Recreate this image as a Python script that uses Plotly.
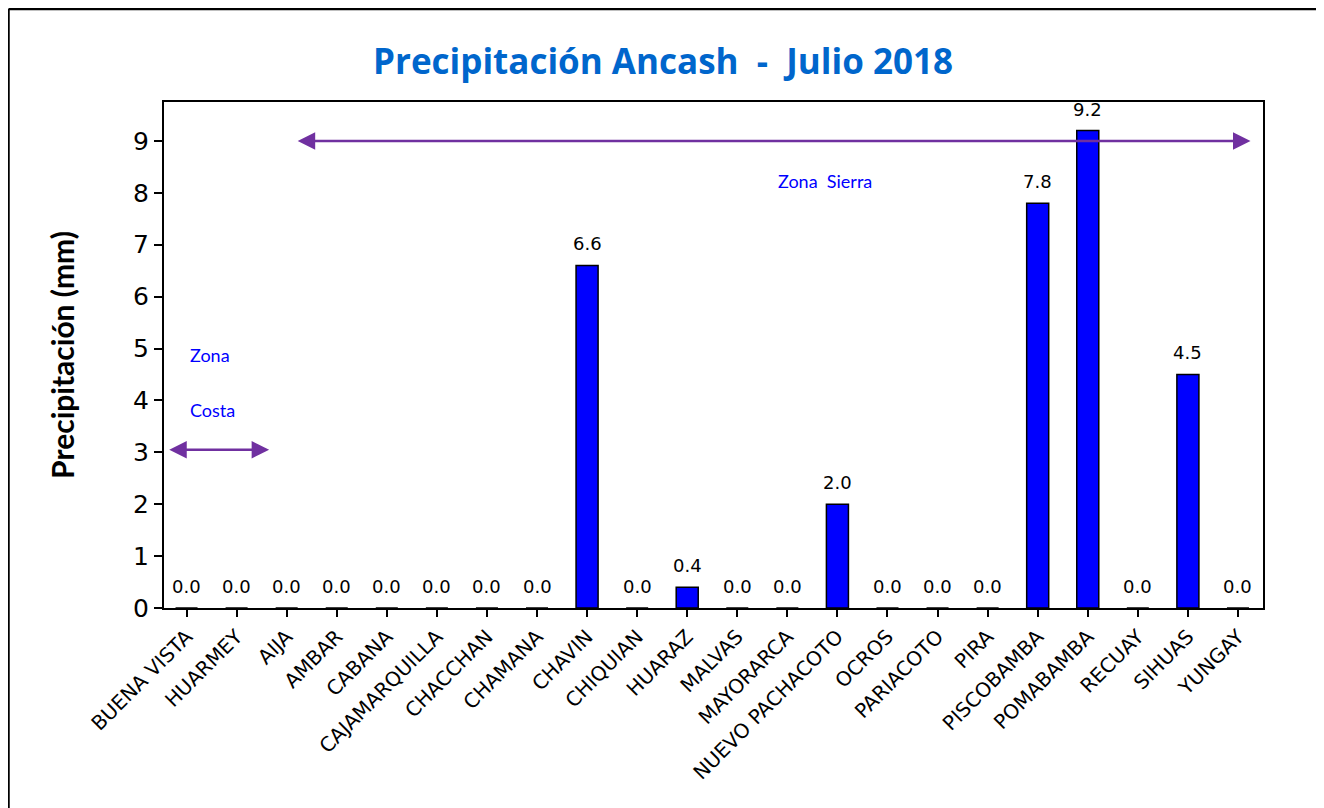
import plotly.graph_objects as go

stations = ["BUENA VISTA", "HUARMEY", "AIJA", "AMBAR", "CABANA", "CAJAMARQUILLA",
            "CHACCHAN", "CHAMANA", "CHAVIN", "CHIQUIAN", "HUARAZ", "MALVAS",
            "MAYORARCA", "NUEVO PACHACOTO", "OCROS", "PARIACOTO", "PIRA",
            "PISCOBAMBA", "POMABAMBA", "RECUAY", "SIHUAS", "YUNGAY"]
precip = [0.0, 0.0, 0.0, 0.0, 0.0, 0.0, 0.0, 0.0, 6.6, 0.0, 0.4, 0.0,
          0.0, 2.0, 0.0, 0.0, 0.0, 7.8, 9.2, 0.0, 4.5, 0.0]
y_ticks = [0, 1, 2, 3, 4, 5, 6, 7, 8, 9]

n = len(stations)
xs = list(range(n))
fig = go.Figure()
fig.add_trace(go.Bar(
    x=xs, y=precip,
    marker=dict(color="#0000FF", line=dict(color="black", width=1.5)),
    width=0.44,
    cliponaxis=False,
))

# value labels
for xi, v in zip(xs, precip):
    fig.add_annotation(x=xi, y=v, text=f"{v:.1f}", showarrow=False, yanchor="bottom",
                       yshift=9, font=dict(family="DejaVu Sans", size=18, color="black"))

purple = "#7030A0"
# Zona Sierra arrow
fig.add_annotation(x=2.22, y=9.0, ax=21.28, ay=9.0, xref="x", yref="y", axref="x", ayref="y",
                   showarrow=True, arrowhead=2, arrowside="end+start", arrowsize=1.4,
                   arrowwidth=2.5, arrowcolor=purple, text="")
# Zona Costa arrow
fig.add_annotation(x=-0.345, y=3.05, ax=1.68, ay=3.05, xref="x", yref="y", axref="x", ayref="y",
                   showarrow=True, arrowhead=2, arrowside="end+start", arrowsize=1.4,
                   arrowwidth=2.5, arrowcolor=purple, text="")

fig.add_annotation(x=12.76, y=8.22, text="Zona  Sierra", showarrow=False,
                   font=dict(family="Lato", size=18, color="#0000FF"))
fig.add_annotation(x=0.03, y=4.87, text="Zona", showarrow=False, xanchor="left",
                   font=dict(family="Lato", size=18, color="#0000FF"))
fig.add_annotation(x=0.03, y=3.82, text="Costa", showarrow=False, xanchor="left",
                   font=dict(family="Lato", size=18, color="#0000FF"))

# outer frame (top, left black; right gray; no bottom)
fig.add_shape(type="line", xref="paper", yref="paper", x0=-0.1415, x1=1.0537, y0=1.184, y1=1.184,
              line=dict(color="black", width=2.5), layer="below")
fig.add_shape(type="line", xref="paper", yref="paper", x0=-0.1415, x1=-0.1415, y0=1.184, y1=-0.42,
              line=dict(color="black", width=2.5), layer="below")
fig.add_shape(type="line", xref="paper", yref="paper", x0=1.0537, x1=1.0537, y0=1.184, y1=-0.42,
              line=dict(color="#888888", width=1.5), layer="below")

fig.update_layout(
    width=1316, height=800,
    margin=dict(l=156, r=61, t=94, b=200),
    paper_bgcolor="white", plot_bgcolor="white",
    showlegend=False,
    title=dict(text="<b>Precipitación Ancash  -  Julio 2018</b>", x=655 / 1316, xanchor="center",
               y=1 - 54 / 800, yanchor="middle",
               font=dict(family="Open Sans", size=35, color="#0066CC")),
)
fig.update_xaxes(
    range=[-0.45, n - 0.5], tickmode="array", tickvals=xs, ticktext=stations,
    tickangle=-45, ticks="outside", ticklen=7, tickwidth=2, tickcolor="black",
    showline=True, linecolor="black", linewidth=2, mirror=True, showgrid=False,
    tickfont=dict(family="DejaVu Sans", size=20, color="black"), zeroline=False,
)
fig.update_yaxes(
    range=[0, 9.75], tickmode="array", tickvals=y_ticks,
    ticks="outside", ticklen=8, tickwidth=2, tickcolor="black",
    showline=True, linecolor="black", linewidth=2, mirror=True, showgrid=False,
    tickfont=dict(family="DejaVu Sans", size=25, color="black"), zeroline=False,
    title=dict(text="<b>Precipitación (mm)</b>", font=dict(family="Lato", size=30, color="black"),
               standoff=50),
)

fig.write_html("out.html")
